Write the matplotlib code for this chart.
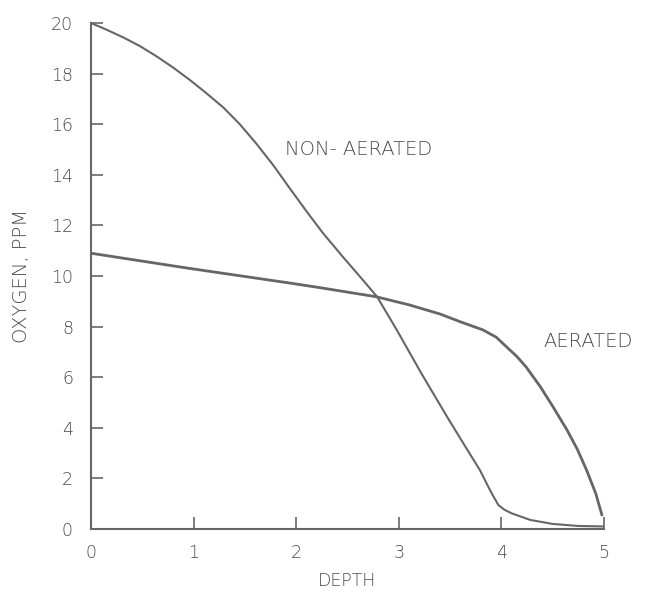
import matplotlib
matplotlib.use("Agg")
import matplotlib.pyplot as plt

# Data
non_aerated_x = [0, 0.16, 0.32, 0.48, 0.64, 0.80, 0.96, 1.12, 1.29, 1.45, 1.61,
                 1.78, 1.94, 2.10, 2.26, 2.45, 2.65, 2.79, 2.98, 3.22, 3.47,
                 3.63, 3.79, 3.90, 3.97, 4.03, 4.10, 4.28, 4.50, 4.75, 5.0]
non_aerated_y = [20, 19.72, 19.42, 19.08, 18.68, 18.24, 17.76, 17.24, 16.66, 16.0, 15.24,
                 14.36, 13.45, 12.56, 11.7, 10.78, 9.84, 9.17, 7.87, 6.15, 4.44,
                 3.38, 2.33, 1.45, 0.95, 0.76, 0.62, 0.36, 0.20, 0.12, 0.10]
aerated_x = [0, 0.96, 1.94, 2.23, 2.78, 3.10, 3.40, 3.60, 3.82, 3.95, 4.05, 4.15,
             4.24, 4.38, 4.50, 4.64, 4.74, 4.83, 4.92, 4.98]
aerated_y = [10.9, 10.3, 9.72, 9.54, 9.18, 8.86, 8.50, 8.19, 7.87, 7.58, 7.20, 6.82,
             6.41, 5.62, 4.85, 3.91, 3.15, 2.33, 1.40, 0.55]
x_ticks = [0, 1, 2, 3, 4, 5]
y_ticks = [0, 2, 4, 6, 8, 10, 12, 14, 16, 18, 20]

ink = "#666666"
txt = "#4a4a4a"
plt.rcParams['font.family'] = ['DejaVu Sans']

fig = plt.figure(figsize=(6.5, 5.95), dpi=100)
ax = fig.add_axes([91/650, 1 - 529/595, (604 - 91)/650, (529 - 23)/595])

ax.plot(non_aerated_x, non_aerated_y, color=ink, lw=1.5,
        solid_joinstyle='round', solid_capstyle='round')
ax.plot(aerated_x, aerated_y, color=ink, lw=2.0,
        solid_joinstyle='round', solid_capstyle='round')

ax.set_xlim(0, 5)
ax.set_ylim(0, 20)
ax.set_xticks(x_ticks)
ax.set_yticks(y_ticks)
ax.set_xticklabels([str(v) for v in x_ticks])
ax.set_yticklabels([str(v) for v in y_ticks])

for s in ['top', 'right']:
    ax.spines[s].set_visible(False)
for s in ['left', 'bottom']:
    ax.spines[s].set_color(ink)
    ax.spines[s].set_linewidth(1.5)

ax.tick_params(axis='both', direction='in', length=8.5, width=1.2, color=ink,
               labelcolor=txt, labelsize=12.5)
ax.tick_params(axis='x', pad=11)
ax.tick_params(axis='y', pad=13)
for lbl in ax.get_xticklabels() + ax.get_yticklabels():
    lbl.set_fontweight('light')

ax.set_xlabel("DEPTH", color=txt, fontsize=12.5, labelpad=7, fontweight='light')
ax.set_ylabel("OXYGEN, PPM", color=txt, fontsize=14, labelpad=14,
              fontweight='light')

ax.text(1.89, 15.0, "NON- AERATED", color=txt, fontsize=14,
        fontweight='light', va='center', ha='left')
ax.text(4.41, 7.4, "AERATED", color=txt, fontsize=14,
        fontweight='light', va='center', ha='left', clip_on=False)

fig.savefig("out.png", dpi=100, facecolor='white')
